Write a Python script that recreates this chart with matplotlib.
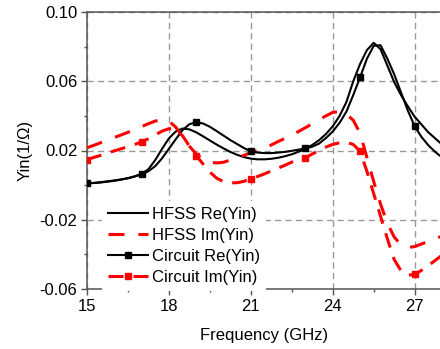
import numpy as np
import matplotlib
matplotlib.use("Agg")
import matplotlib.pyplot as plt
from matplotlib.ticker import FixedLocator, FixedFormatter

plt.rcParams['font.family'] = ['Liberation Sans', 'DejaVu Sans']
plt.rcParams['lines.scale_dashes'] = False

# ---- data ----
freq = [15.00, 15.25, 15.50, 15.75, 16.00, 16.25, 16.50, 16.75, 17.00, 17.25,
        17.50, 17.75, 18.00, 18.25, 18.50, 18.75, 19.00, 19.25, 19.50, 19.75,
        20.00, 20.25, 20.50, 20.75, 21.00, 21.25, 21.50, 21.75, 22.00, 22.25,
        22.50, 22.75, 23.00, 23.25, 23.50, 23.75, 24.00, 24.25, 24.50, 24.75,
        25.00, 25.25, 25.50, 25.75, 26.00, 26.25, 26.50, 26.75, 27.00, 27.25,
        27.50, 27.75, 28.00]

hfss_re = [0.0010, 0.0012, 0.0015, 0.0020, 0.0025, 0.0032, 0.0040, 0.0051, 0.0065, 0.0092,
           0.0145, 0.0210, 0.0270, 0.0310, 0.0327, 0.0322, 0.0305, 0.0282, 0.0258, 0.0234,
           0.0212, 0.0192, 0.0175, 0.0162, 0.0153, 0.0149, 0.0149, 0.0152, 0.0158, 0.0167,
           0.0178, 0.0193, 0.0212, 0.0232, 0.0260, 0.0295, 0.0340, 0.0400, 0.0480, 0.0600,
           0.0700, 0.0780, 0.0822, 0.0785, 0.0690, 0.0595, 0.0520, 0.0455, 0.0395, 0.0350,
           0.0305, 0.0270, 0.0235]

hfss_im = [0.0216, 0.0230, 0.0245, 0.0260, 0.0275, 0.0290, 0.0305, 0.0320, 0.0338, 0.0355,
           0.0370, 0.0378, 0.0370, 0.0335, 0.0280, 0.0225, 0.0180, 0.0148, 0.0132, 0.0128,
           0.0132, 0.0145, 0.0158, 0.0172, 0.0188, 0.0200, 0.0213, 0.0232, 0.0252, 0.0270,
           0.0288, 0.0310, 0.0332, 0.0355, 0.0378, 0.0400, 0.0420, 0.0425, 0.0410, 0.0375,
           0.0300, 0.0160, 0.0020, -0.0110, -0.0220, -0.0300, -0.0345, -0.0360, -0.0355, -0.0340,
           -0.0325, -0.0310, -0.0295]

circ_re = [0.0010, 0.0013, 0.0017, 0.0022, 0.0027, 0.0033, 0.0040, 0.0050, 0.0062, 0.0080,
           0.0110, 0.0155, 0.0210, 0.0265, 0.0318, 0.0352, 0.0363, 0.0356, 0.0337, 0.0312,
           0.0286, 0.0260, 0.0237, 0.0214, 0.0196, 0.0188, 0.0185, 0.0185, 0.0188, 0.0192,
           0.0198, 0.0205, 0.0212, 0.0222, 0.0240, 0.0272, 0.0310, 0.0360, 0.0425, 0.0520,
           0.0623, 0.0730, 0.0805, 0.0808, 0.0730, 0.0640, 0.0535, 0.0430, 0.0340, 0.0278,
           0.0230, 0.0192, 0.0160]

circ_im = [0.0148, 0.0160, 0.0172, 0.0185, 0.0198, 0.0210, 0.0222, 0.0235, 0.0250, 0.0268,
           0.0290, 0.0312, 0.0326, 0.0322, 0.0285, 0.0225, 0.0170, 0.0122, 0.0075, 0.0040,
           0.0020, 0.0013, 0.0014, 0.0022, 0.0038, 0.0050, 0.0065, 0.0082, 0.0098, 0.0115,
           0.0133, 0.0146, 0.0158, 0.0180, 0.0200, 0.0220, 0.0235, 0.0245, 0.0248, 0.0235,
           0.0196, 0.0080, -0.0050, -0.0180, -0.0310, -0.0430, -0.0495, -0.0520, -0.0516, -0.0492,
           -0.0465, -0.0435, -0.0405]

x_major = [15, 18, 21, 24, 27]
x_minor = [16.5, 19.5, 22.5, 25.5]
y_major = [-0.06, -0.02, 0.02, 0.06, 0.10]
y_minor = [-0.04, 0.0, 0.04, 0.08]
y_labels = ['-0.06', '-0.02', '0.02', '0.06', '0.10']

labels = ['HFSS Re(Yin)', 'HFSS Im(Yin)', 'Circuit Re(Yin)', 'Circuit Im(Yin)']

# ---- figure ----
W, H = 440, 349
fig = plt.figure(figsize=(W / 100, H / 100), dpi=100)
ax = fig.add_axes([87 / W, (H - 289) / H, 355 / W, 277 / H])

red = '#FF0000'
ax.plot(freq, hfss_re, color='black', lw=1.5, label=labels[0], zorder=3)
ax.plot(freq, hfss_im, color=red, lw=2.2, dashes=(11.5, 10), label=labels[1], zorder=3)
ax.plot(freq, circ_re, color='black', lw=1.5, marker='s', ms=4.5, markevery=8,
        label=labels[2], zorder=3)
ax.plot(freq, circ_im, color=red, lw=2.2, dashes=(10.8, 7.2), marker='s', ms=4.5,
        markevery=8, label=labels[3], zorder=3)

ax.set_xlim(15, 28)
ax.set_ylim(-0.06, 0.10)

ax.xaxis.set_major_locator(FixedLocator(x_major))
ax.xaxis.set_minor_locator(FixedLocator(x_minor))
ax.yaxis.set_major_locator(FixedLocator(y_major))
ax.yaxis.set_minor_locator(FixedLocator(y_minor))
ax.yaxis.set_major_formatter(FixedFormatter(y_labels))

ax.tick_params(which='major', direction='out', length=4, width=1.0, color='#555555',
               labelsize=12, pad=3)
ax.tick_params(which='minor', direction='out', length=2, width=1.0, color='#555555')

for s in ax.spines.values():
    s.set_color('#555555')
    s.set_linewidth(1.1)

ax.grid(True, which='major', color='#999999', lw=1.0, dashes=(4.5, 3))
ax.set_axisbelow(True)

ax.set_xlabel('Frequency (GHz)', fontsize=12, labelpad=10)
ax.set_ylabel('Yin(1/Ω)', fontsize=12, labelpad=5)

leg = ax.legend(loc='upper left', bbox_to_anchor=(102 / W, (H - 201) / H),
                bbox_transform=fig.transFigure, fontsize=12, frameon=True,
                facecolor='white', edgecolor='none', framealpha=1, fancybox=False,
                borderpad=0.35, borderaxespad=0, handlelength=2.4, handletextpad=0.28,
                labelspacing=0.36, numpoints=1)
leg.set_zorder(5)

fig.savefig('out.png', dpi=100)
